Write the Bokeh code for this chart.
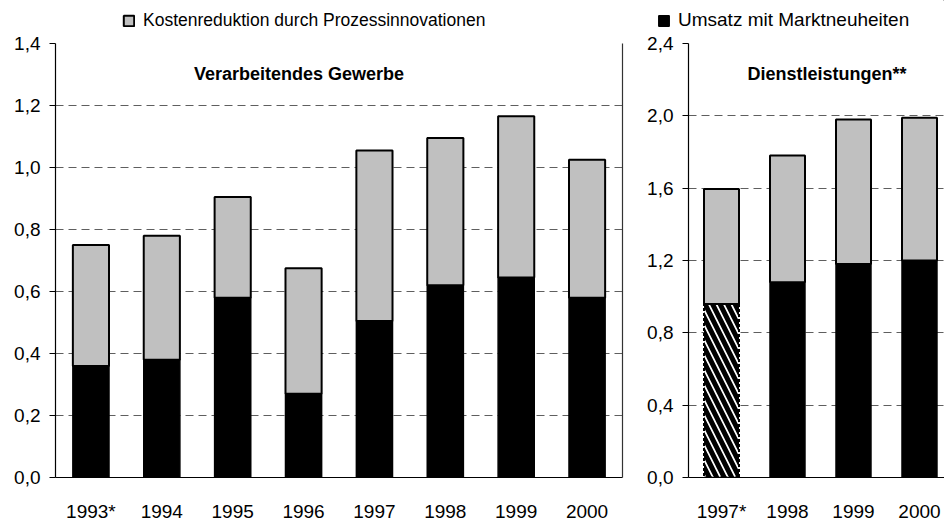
from bokeh.plotting import figure
from bokeh.models import (ColumnDataSource, Legend, LegendItem, LinearAxis, Label,
                          FixedTicker, Range1d, CDSView, BooleanFilter)
from bokeh.layouts import row, column
from bokeh.embed import file_html
from bokeh.resources import INLINE

# ---------------- data ----------------
vg_years = ["1993*", "1994", "1995", "1996", "1997", "1998", "1999", "2000"]
vg_markt = [0.36, 0.38, 0.58, 0.27, 0.505, 0.62, 0.645, 0.58]          # Umsatz mit Marktneuheiten
vg_kosten = [0.39, 0.40, 0.325, 0.405, 0.55, 0.475, 0.52, 0.445]       # Kostenreduktion
vg_ticks = [0.0, 0.2, 0.4, 0.6, 0.8, 1.0, 1.2, 1.4]
vg_estimated = [False] * 8

dl_years = ["1997*", "1998", "1999", "2000"]
dl_markt = [0.96, 1.08, 1.18, 1.20]
dl_kosten = [0.635, 0.70, 0.80, 0.79]
dl_ticks = [0.0, 0.4, 0.8, 1.2, 1.6, 2.0, 2.4]
dl_estimated = [True, False, False, False]

legend_labels = ["Kostenreduktion durch Prozessinnovationen", "Umsatz mit Marktneuheiten"]
titles = ["Verarbeitendes Gewerbe", "Dienstleistungen**"]

FONT = "Liberation Sans"
GRAY = "#c0c0c0"
STRIP_H = 33


def fmt(v):
    return f"{v:.1f}".replace(".", ",")


def panel(years, markt, kosten, ticks, estimated, title, title_xy, width,
          border_left, border_right, x_end, bar_width, right_line):
    n = len(years)
    xs = list(range(n))
    top = [m + k for m, k in zip(markt, kosten)]
    src = ColumnDataSource(dict(x=xs, markt=markt, top=top))

    p = figure(width=width, height=524 - STRIP_H,
               x_range=Range1d(-0.5, x_end), y_range=Range1d(ticks[0], ticks[-1]),
               output_backend="svg", toolbar_location=None,
               min_border_left=border_left, min_border_right=border_right,
               min_border_top=10, min_border_bottom=41,
               outline_line_color=None, background_fill_color="white",
               border_fill_color="white")

    normal = CDSView(filter=BooleanFilter([not e for e in estimated]))
    est = CDSView(filter=BooleanFilter(list(estimated)))

    p.vbar(x="x", bottom=0, top="markt", width=bar_width, source=src, view=normal,
           fill_color="black", line_color="black", line_width=1.5)
    if any(estimated):
        p.vbar(x="x", bottom=0, top="markt", width=bar_width, source=src, view=est,
               fill_color="white", line_color="black", line_width=2, line_dash="3 2",
               hatch_pattern="\\", hatch_color="black", hatch_scale=15, hatch_weight=5)
    p.vbar(x="x", bottom="markt", top="top", width=bar_width, source=src,
           fill_color=GRAY, line_color="black", line_width=2)

    # axes
    p.yaxis.ticker = FixedTicker(ticks=ticks)
    p.yaxis.major_label_overrides = {t: fmt(t) for t in ticks}
    p.yaxis.axis_line_color = "black"
    p.yaxis.axis_line_width = 1.2
    p.yaxis.major_tick_out = 6
    p.yaxis.major_tick_in = 0
    p.yaxis.major_tick_line_color = "black"
    p.yaxis.minor_tick_line_color = None
    p.yaxis.major_label_standoff = 9
    p.yaxis.major_label_text_font = FONT
    p.yaxis.major_label_text_font_size = "19px"
    p.yaxis.major_label_text_color = "black"

    p.xaxis.ticker = FixedTicker(ticks=xs)
    p.xaxis.major_label_overrides = {i: years[i] for i in xs}
    p.xaxis.axis_line_color = "black"
    p.xaxis.axis_line_width = 1.2
    p.xaxis.major_tick_line_color = None
    p.xaxis.minor_tick_line_color = None
    p.xaxis.major_label_standoff = 17
    p.xaxis.major_label_text_font = FONT
    p.xaxis.major_label_text_font_size = "19px"
    p.xaxis.major_label_text_color = "black"

    p.xgrid.grid_line_color = None
    p.ygrid.ticker = FixedTicker(ticks=ticks[1:])
    p.ygrid.grid_line_color = "#5f5f5f"
    p.ygrid.grid_line_dash = "8 5"
    p.ygrid.grid_line_width = 1.2

    if right_line:
        ax = LinearAxis(ticker=FixedTicker(ticks=[]), axis_line_color="#333333",
                        axis_line_width=1.2, major_tick_line_color=None,
                        minor_tick_line_color=None)
        p.add_layout(ax, "right")

    p.add_layout(Label(x=title_xy[0], y=title_xy[1], text=title, text_font=FONT,
                       text_font_style="bold", text_font_size="18px",
                       text_align="center", text_baseline="alphabetic",
                       text_color="black"))
    return p


p1 = panel(vg_years, vg_markt, vg_kosten, vg_ticks, vg_estimated, titles[0],
           (2.936, 1.303), 640, 55, 18, 7.5, 0.51, True)
p2 = panel(dl_years, dl_markt, dl_kosten, dl_ticks, dl_estimated, titles[1],
           (1.60, 2.234), 304, 48, 0, 3.379, 0.53, False)

# ---------------- legend strip ----------------
strip = figure(width=944, height=STRIP_H, x_range=Range1d(0, 1), y_range=Range1d(0, 1),
               output_backend="svg", toolbar_location=None, min_border=0,
               outline_line_color=None, background_fill_color="white",
               border_fill_color="white")
strip.axis.visible = False
strip.grid.visible = False
# legend swatch renderers: one item each, lying outside the strip's visible range
swatch = ColumnDataSource(dict(x=[5], top=[5], bottom=[4]))
r_gray = strip.vbar(x="x", top="top", bottom="bottom", width=1, source=swatch,
                    fill_color=GRAY, line_color="black", line_width=2)
r_black = strip.vbar(x="x", top="top", bottom="bottom", width=1, source=swatch,
                     fill_color="black", line_color="black", line_width=1.5)

leg_specs = [(legend_labels[0], r_gray, (122, 2), "17.5px"),
             (legend_labels[1], r_black, (657, 2), "19px")]
for lab, rend, loc, size in leg_specs:
    strip.add_layout(Legend(items=[LegendItem(label=lab, renderers=[rend])],
                            location=loc, orientation="horizontal",
                            glyph_width=13, glyph_height=13, label_standoff=8,
                            padding=0, margin=0, spacing=0,
                            border_line_color=None, background_fill_alpha=0,
                            label_text_font=FONT, label_text_font_size=size,
                            label_height=13, label_text_color="black"))

layout = column(strip, row(p1, p2))
open("out.html", "w").write(file_html(layout, INLINE))
